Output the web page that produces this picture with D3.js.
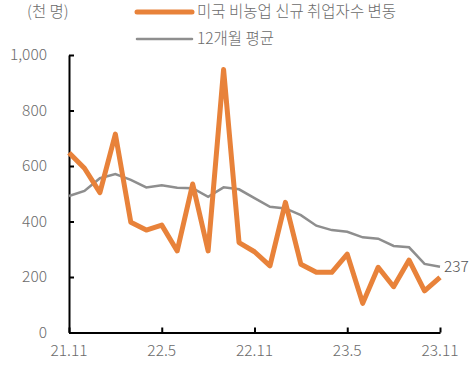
<!DOCTYPE html>
<html>
<head>
<meta charset="utf-8">
<script src="https://cdn.jsdelivr.net/npm/d3@7"></script>
<style>
  body { margin: 0; background: #fff; overflow: hidden; }
  svg { display: block; }
  svg text { font-family: "Noto Sans CJK KR", "Noto Sans", sans-serif; font-weight: 300; }
</style>
</head>
<body>
<svg class="chart"></svg>
<script>
const svgWidth = 474;
const svgHeight = 378;

// months 21.11 .. 23.11
const months = d3.range(25);
const tickMonths = [0, 6, 12, 18, 24];
const tickLabels = ["21.11", "22.5", "22.11", "23.5", "23.11"];
const yTicks = [0, 200, 400, 600, 800, 1000];

// 미국 비농업 신규 취업자수 변동
const payrolls = [648, 592, 504, 715, 397, 369, 387, 294, 535, 294, 948, 324, 291, 240,
                  469, 246, 217, 217, 282, 105, 235, 165, 261, 150, 199];
// 12개월 평균
const avg12 = [492, 510, 556, 571, 550, 523, 531, 522, 520, 489, 523, 516, 484, 453,
               447, 423, 385, 369, 363, 343, 338, 312, 307, 247, 237];

var margin = { top: 55, right: 34, bottom: 45.5, left: 69 };
var innerWidth = svgWidth - margin.left - margin.right;
var innerHeight = svgHeight - margin.top - margin.bottom;

const svg = d3.select('.chart')
  .attr("width", svgWidth)
  .attr("height", svgHeight);

var graph = svg.append("g")
  .attr("transform", "translate(" + margin.left + "," + margin.top + ")");

var x = d3.scaleLinear().domain([0, 24]).range([0, innerWidth]);
var y = d3.scaleLinear().domain([0, 1000]).range([innerHeight, 0]);

// y axis, ticks pointing inward
var yAxis = graph.append("g")
  .call(d3.axisRight(y).tickValues(yTicks).tickSize(5).tickSizeOuter(0).tickFormat(""));
yAxis.select(".domain").attr("stroke", "#000").attr("stroke-width", 2);
yAxis.selectAll(".tick line").attr("stroke", "#000").attr("stroke-width", 2);

graph.selectAll(".ylab")
  .data(yTicks)
  .enter().append("text")
    .attr("x", -22)
    .attr("y", function(d) { return y(d); })
    .attr("dy", "0.35em")
    .attr("text-anchor", "end")
    .attr("fill", "#6b6b6b")
    .attr("font-size", 15.5)
    .text(function(d) { return d3.format(",")(d); });

// x axis, ticks pointing up
var xAxis = graph.append("g")
  .attr("transform", "translate(0," + innerHeight + ")")
  .call(d3.axisTop(x).tickValues(tickMonths).tickSize(5).tickSizeOuter(0).tickFormat(""));
xAxis.select(".domain").attr("stroke", "#000").attr("stroke-width", 2);
xAxis.selectAll(".tick line").attr("stroke", "#000").attr("stroke-width", 2);

graph.selectAll(".xlab")
  .data(tickMonths)
  .enter().append("text")
    .attr("x", function(d) { return x(d); })
    .attr("y", innerHeight + 23)
    .attr("text-anchor", "middle")
    .attr("fill", "#6b6b6b")
    .attr("font-size", 15.5)
    .text(function(d, i) { return tickLabels[i]; });

var line = d3.line()
  .x(function(d, i) { return x(months[i]); })
  .y(function(d) { return y(d); });

graph.append("path")
  .datum(avg12)
  .attr("fill", "none")
  .attr("stroke", "#8e8e8e")
  .attr("stroke-width", 2.5)
  .attr("d", line);

graph.append("path")
  .datum(payrolls)
  .attr("fill", "none")
  .attr("stroke", "#E8823A")
  .attr("stroke-width", 5)
  .attr("stroke-linejoin", "round")
  .attr("d", line);

// last value label
graph.append("text")
  .attr("x", x(24) + 4)
  .attr("y", y(avg12[24]))
  .attr("dy", "0.35em")
  .attr("fill", "#555")
  .attr("font-size", 15.5)
  .text(avg12[24]);

// unit + legend
svg.append("text")
  .attr("x", 27).attr("y", 17)
  .attr("fill", "#6b6b6b").attr("font-size", 15.5)
  .text("(천 명)");

var legend = [
  { name: "미국 비농업 신규 취업자수 변동", color: "#E8823A", w: 5, y: 12 },
  { name: "12개월 평균", color: "#8e8e8e", w: 2.5, y: 39 }
];
legend.forEach(function(l) {
  svg.append("line")
    .attr("x1", 137).attr("x2", 192)
    .attr("y1", l.y).attr("y2", l.y)
    .attr("stroke", l.color).attr("stroke-width", l.w)
    .attr("stroke-linecap", "round");
  svg.append("text")
    .attr("x", 197).attr("y", l.y)
    .attr("dy", "0.35em")
    .attr("fill", "#6b6b6b").attr("font-size", 15.5)
    .text(l.name);
});
</script>
</body>
</html>
